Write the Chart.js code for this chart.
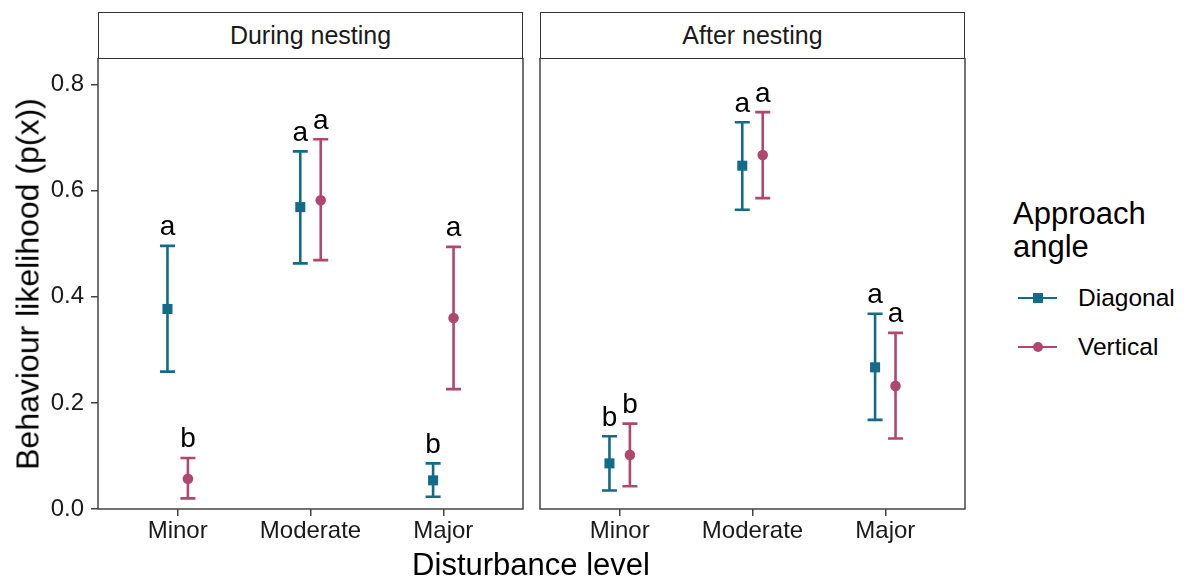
<!DOCTYPE html>
<html>
<head>
<meta charset="utf-8">
<script src="https://cdn.jsdelivr.net/npm/chart.js@4.4.1/dist/chart.umd.min.js"></script>
<style>
body{margin:0;background:#fff;width:1184px;height:580px;position:relative;overflow:hidden;font-family:"Liberation Sans",Arial,sans-serif;color:#000;}
canvas{position:absolute;top:58px;}
.strip{position:absolute;top:12px;width:425px;height:47px;box-sizing:border-box;border:1.5px solid #333;background:#fff;
  display:flex;align-items:center;justify-content:center;font-size:25px;color:#1a1a1a;}
.title{position:absolute;font-size:31px;white-space:nowrap;line-height:33px;}
.key{position:absolute;}
</style>
</head>
<body>
<canvas id="left" width="525" height="522" style="left:0"></canvas>
<canvas id="right" width="437" height="522" style="left:530px"></canvas>
<div id="labels"></div>
<script>
const categories=['Minor','Moderate','Major'];
const panelNames=['During nesting','After nesting'];
const seriesNames=['Diagonal','Vertical'];
const yTicks=[0,0.2,0.4,0.6,0.8];

// During nesting
const duringDiagonal=[0.377,0.569,0.054];
const duringDiagonalLow=[0.259,0.463,0.023];
const duringDiagonalHigh=[0.496,0.674,0.086];
const duringDiagonalLetters=['a','a','b'];
const duringVertical=[0.057,0.582,0.360];
const duringVerticalLow=[0.020,0.469,0.226];
const duringVerticalHigh=[0.096,0.697,0.494];
const duringVerticalLetters=['b','a','a'];

// After nesting
const afterDiagonal=[0.086,0.647,0.267];
const afterDiagonalLow=[0.035,0.564,0.168];
const afterDiagonalHigh=[0.137,0.729,0.368];
const afterDiagonalLetters=['b','a','a'];
const afterVertical=[0.102,0.667,0.232];
const afterVerticalLow=[0.043,0.586,0.133];
const afterVerticalHigh=[0.161,0.748,0.332];
const afterVerticalLetters=['b','a','a'];

const FONT='"Liberation Sans", Arial, sans-serif';
const BLUE='#136b8a', PINK='#b0476f';
const DODGE=0.077;

const pts=(vals,off)=>vals.map((v,i)=>({x:i+off,y:v}));

// error bars, letters and the panel border
const extras={
  id:'extras',
  beforeDatasetsDraw(chart){
    const ctx=chart.ctx, y=chart.scales.y;
    chart.data.datasets.forEach((ds,di)=>{
      const meta=chart.getDatasetMeta(di);
      ctx.save(); ctx.strokeStyle=ds.borderColor; ctx.lineWidth=2.6;
      meta.data.forEach((pt,i)=>{
        const lo=y.getPixelForValue(ds.low[i]), hi=y.getPixelForValue(ds.high[i]);
        ctx.beginPath();
        ctx.moveTo(pt.x,lo); ctx.lineTo(pt.x,hi);
        ctx.moveTo(pt.x-7.5,lo); ctx.lineTo(pt.x+7.5,lo);
        ctx.moveTo(pt.x-7.5,hi); ctx.lineTo(pt.x+7.5,hi);
        ctx.stroke();
      });
      ctx.restore();
    });
  },
  afterDatasetsDraw(chart){
    const ctx=chart.ctx, y=chart.scales.y, a=chart.chartArea;
    ctx.save();
    ctx.font='28px '+FONT; ctx.fillStyle='#000'; ctx.textAlign='center'; ctx.textBaseline='alphabetic';
    chart.data.datasets.forEach((ds,di)=>{
      chart.getDatasetMeta(di).data.forEach((pt,i)=>{
        ctx.fillText(ds.letters[i],pt.x,y.getPixelForValue(ds.high[i]+0.02));
      });
    });
    ctx.strokeStyle='#444'; ctx.lineWidth=1.5;
    ctx.strokeRect(a.left,a.top,a.right-a.left,a.bottom-a.top);
    ctx.restore();
  }
};

function makeChart(id,d,showY){
  return new Chart(document.getElementById(id),{
    type:'scatter',
    data:{datasets:[
      {label:seriesNames[0],data:pts(d.diag,-DODGE),low:d.diagLow,high:d.diagHigh,letters:d.diagLetters,
       backgroundColor:BLUE,borderColor:BLUE,pointStyle:'rect',pointRadius:7.1,pointBorderWidth:0},
      {label:seriesNames[1],data:pts(d.vert,DODGE),low:d.vertLow,high:d.vertHigh,letters:d.vertLetters,
       backgroundColor:PINK,borderColor:PINK,pointStyle:'circle',pointRadius:5.3,pointBorderWidth:0}
    ]},
    options:{
      responsive:false,animation:false,devicePixelRatio:1,
      layout:{padding:{left:showY?0:10,right:2,top:0,bottom:0},autoPadding:false},
      plugins:{legend:{display:false},tooltip:{enabled:false}},
      scales:{
        x:{type:'linear',min:-0.6,max:2.6,
          afterBuildTicks:s=>{s.ticks=categories.map((c,i)=>({value:i}));},
          afterFit:s=>{s.height=71;s.paddingLeft=0;s.paddingRight=0;},
          ticks:{callback:v=>categories[v],font:{size:24,family:FONT},color:'#1a1a1a',padding:1,maxRotation:0,autoSkip:false},
          grid:{drawOnChartArea:false,drawTicks:true,tickLength:7,color:'#444',lineWidth:1.5},
          border:{display:false}},
        y:{min:0,max:0.85,display:showY,
          afterBuildTicks:s=>{s.ticks=yTicks.map(v=>({value:v}));},
          afterFit:s=>{if(showY)s.width=98;s.paddingTop=0;s.paddingBottom=0;},
          ticks:{callback:v=>v.toFixed(1),font:{size:24,family:FONT},color:'#1a1a1a',padding:7},
          grid:{drawOnChartArea:false,drawTicks:true,tickLength:7,color:'#444',lineWidth:1.5},
          border:{display:false}}
      }
    },
    plugins:[extras]
  });
}

makeChart('left',{diag:duringDiagonal,diagLow:duringDiagonalLow,diagHigh:duringDiagonalHigh,diagLetters:duringDiagonalLetters,
  vert:duringVertical,vertLow:duringVerticalLow,vertHigh:duringVerticalHigh,vertLetters:duringVerticalLetters},true);
makeChart('right',{diag:afterDiagonal,diagLow:afterDiagonalLow,diagHigh:afterDiagonalHigh,diagLetters:afterDiagonalLetters,
  vert:afterVertical,vertLow:afterVerticalLow,vertHigh:afterVerticalHigh,vertLetters:afterVerticalLetters},false);

// strips, titles and legend as HTML text
const L=document.getElementById('labels');
let html='';
[98,540].forEach((x,i)=>{ html+=`<div class="strip" style="left:${x}px">${panelNames[i]}</div>`; });
html+=`<div class="title" style="left:531px;top:548px;transform:translateX(-50%)">Disturbance level</div>`;
html+=`<div class="title" style="left:28px;top:284px;font-size:32px;transform:translate(-50%,-50%) rotate(-90deg)">Behaviour likelihood (p(x))</div>`;
html+=`<div class="title" style="left:1013px;top:197px">Approach<br>angle</div>`;
[[298,BLUE,'0'],[347,PINK,'50%']].forEach(([y,c,r],i)=>{
  html+=`<div class="key" style="left:1018px;top:${y-1.3}px;width:39px;height:2.6px;background:${c}"></div>`;
  html+=`<div class="key" style="left:${1038-5.2}px;top:${y-5.2}px;width:10.4px;height:10.4px;border-radius:${r};background:${c}"></div>`;
  html+=`<div class="key" style="left:1078px;top:${y-12}px;font-size:24.5px;line-height:24px;white-space:nowrap">${seriesNames[i]}</div>`;
});
L.innerHTML=html;
</script>
</body>
</html>
